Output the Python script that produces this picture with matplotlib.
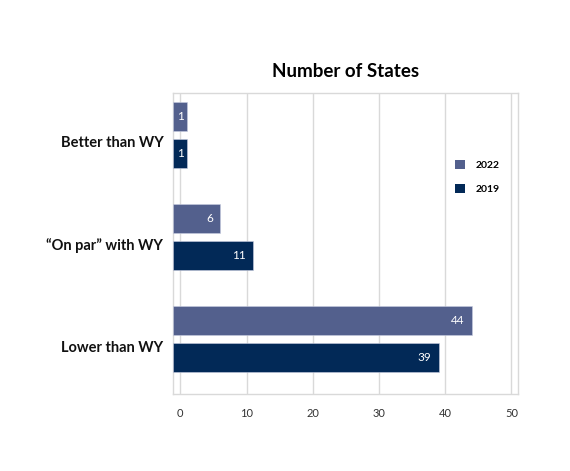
import matplotlib
matplotlib.use("Agg")
import matplotlib.pyplot as plt
from matplotlib.patches import Patch

# ---------------------------------------------------------------------------
# Data
# ---------------------------------------------------------------------------
categories = ["Better than WY", "\u201cOn par\u201d with WY", "Lower than WY"]
series_names = ["2022", "2019"]
values_2022 = [1, 6, 44]
values_2019 = [1, 11, 39]
x_ticks = [0, 10, 20, 30, 40, 50]

COLORS = {
    "2022": "#53608d",
    "2019": "#022957",
}
GRID = "#d9d9d9"
FONT = "Lato"

plt.rcParams["font.family"] = [FONT, "DejaVu Sans"]

fig = plt.figure(figsize=(5.70, 4.71), dpi=100)
ax = fig.add_axes([0.3035, 0.1635, 0.6053, 0.6384])

XMIN, XMAX = -1.1, 51.0
ypos = list(range(len(categories)))
off, h = 0.18, 0.283

for name, vals, sign in (("2022", values_2022, -1), ("2019", values_2019, 1)):
    ys = [y + sign * off for y in ypos]
    # bars run from the axis baseline out to the value
    ax.barh(ys, [v - XMIN for v in vals], left=XMIN, height=h,
            color=COLORS[name], edgecolor="#c8cde0", linewidth=0.4, zorder=3)
    for y, v in zip(ys, vals):
        pad = -2 if v < 3 else -5
        ax.annotate(str(v), (v, y), xytext=(pad, 0), textcoords="offset points",
                    ha="right", va="center", color="white", fontsize=8.5, zorder=4)

ax.set_xlim(XMIN, XMAX)
ax.set_ylim(2.536, -0.405)
ax.set_xticks(x_ticks)
ax.set_xticklabels([str(t) for t in x_ticks], fontsize=8, color="#333333")
ax.tick_params(axis="x", length=0, pad=10)
# category labels sit a little below the middle of each pair of bars
ax.set_yticks([y + 0.07 for y in ypos])
ax.set_yticklabels(categories, fontsize=10.5, fontweight="bold", color="#111111")
ax.tick_params(axis="y", length=0, pad=7)

ax.grid(True, axis="x", color=GRID, linewidth=1, zorder=0)
for s in ax.spines.values():
    s.set_color(GRID)
    s.set_linewidth(1)

ax.set_title("Number of States", fontsize=13.5, fontweight="bold", pad=12)

handles = [Patch(facecolor=COLORS[n], edgecolor="none") for n in series_names]
leg = ax.legend(handles, series_names, loc="upper right",
                bbox_to_anchor=(0.975, 0.81), frameon=False,
                prop={"family": FONT, "weight": "bold", "size": 7.5},
                handlelength=1.0, handleheight=1.0, labelspacing=1.3,
                handletextpad=1.0)

fig.savefig("out.png", dpi=100)
